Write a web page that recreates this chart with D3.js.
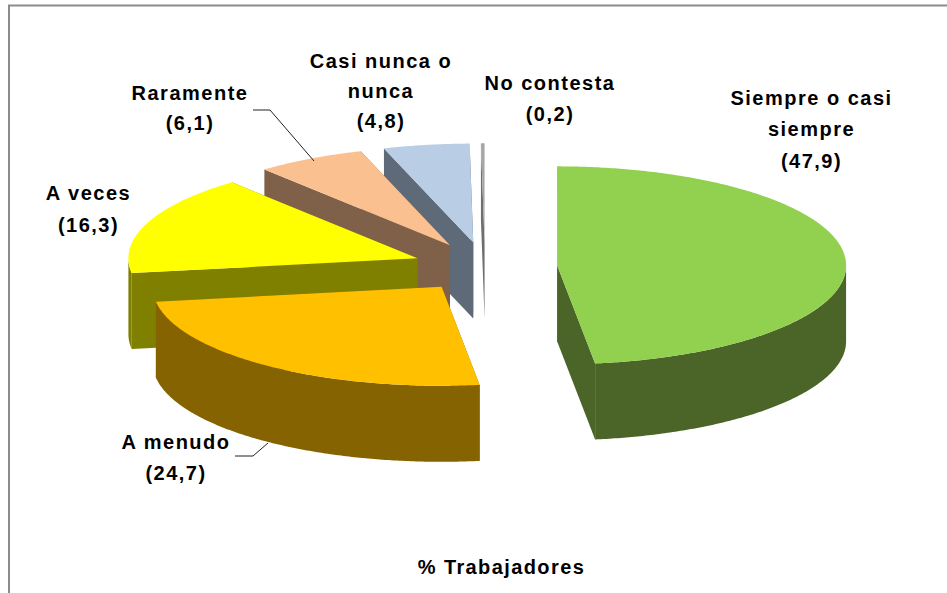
<!DOCTYPE html>
<html><head><meta charset="utf-8">
<script src="https://cdn.jsdelivr.net/npm/d3@7"></script>
<style>html,body{margin:0;padding:0;background:#fff;overflow:hidden}
text{font-family:"Liberation Sans",Arial,sans-serif;font-weight:bold;fill:#000;text-anchor:middle}</style>
</head><body><svg id="c" width="947" height="593"></svg>
<script>
const categories = ["Siempre o casi siempre","A menudo","A veces","Raramente","Casi nunca o nunca","No contesta"];
const values = [47.9,24.7,16.3,6.1,4.8,0.2];
const valueLabels = ["(47,9)","(24,7)","(16,3)","(6,1)","(4,8)","(0,2)"];
const topColors = ["#92D050","#FFC000","#FFFF00","#FAC090","#B9CDE5","#A6A6A6"];
const sideColors = ["#4A6527","#856300","#808000","#7F6048","#5E6A78","#6E6E6E"];
const axisTitle = "% Trabajadores";

// layout
const W=947,H=593, cx=485, cy=267, rx=289, ry=99, depth=76, explode=0.25;
const labelLayout = [
 {lines:["Siempre o casi","siempre"],x:811.5,y:[105,136,168]},
 {lines:["A menudo"],x:176,y:[449,480]},
 {lines:["A veces"],x:88.5,y:[200,232]},
 {lines:["Raramente"],x:190,y:[100,130]},
 {lines:["Casi nunca o","nunca"],x:381,y:[68,98,128]},
 {lines:["No contesta"],x:550,y:[90,121]}
];
const leaders = [[[253,110],[270,110],[314,161]],[[235,456],[253,456],[268,443]]];

const svg=d3.select("#c");
svg.append("path").attr("d",`M9,593V5.5H947`).attr("fill","none").attr("stroke","#8c8c8c").attr("stroke-width",2);

const sx=d3.scaleLinear().domain([-1,1]).range([-rx,rx]);
const sy=d3.scaleLinear().domain([-1,1]).range([-ry,ry]);
const pie=d3.pie().sort(null).startAngle(0).endAngle(2*Math.PI);
const arcs=pie(values);
const lineGen=d3.line();
const pt=(a,ox,oy,dz=0)=>[ox+sx(Math.sin(a)),oy-sy(Math.cos(a))+dz];
const rim=(a0,a1,ox,oy,dz)=>{const n=Math.max(2,Math.ceil((a1-a0)/0.01));
  return d3.range(n+1).map(i=>pt(a0+(a1-a0)*i/n,ox,oy,dz));};

const order=d3.range(values.length).reverse();
const g=svg.append("g");
order.forEach(i=>{
  const d=arcs[i], mid=(d.startAngle+d.endAngle)/2;
  const ox=cx+explode*sx(Math.sin(mid)), oy=cy-explode*sy(Math.cos(mid));
  const s=g.append("g").attr("class","slice").attr("data-category",categories[i]);
  const wall=a=>{const p=pt(a,ox,oy);return [[ox,oy],p,[p[0],p[1]+depth],[ox,oy+depth]];};
  [d.startAngle,d.endAngle].forEach(a=>s.append("path").attr("d",lineGen(wall(a))+"Z").attr("fill",sideColors[i]));
  const a0=Math.max(d.startAngle,Math.PI/2), a1=Math.min(d.endAngle,3*Math.PI/2);
  if(a1>a0){
    const up=rim(a0,a1,ox,oy,0), dn=rim(a0,a1,ox,oy,depth).reverse();
    s.append("path").attr("d",lineGen(up.concat(dn))+"Z").attr("fill",sideColors[i]);
  }
  s.append("path").attr("d",lineGen([[ox,oy]].concat(rim(d.startAngle,d.endAngle,ox,oy,0)))+"Z").attr("fill",topColors[i]);
});

leaders.forEach(l=>svg.append("path").attr("d",lineGen(l)).attr("fill","none").attr("stroke","#222").attr("stroke-width",1));

const labels=svg.append("g").attr("font-size",20);
labelLayout.forEach((l,i)=>{
  l.lines.concat(valueLabels[i]).forEach((t,j)=>{
    labels.append("text").attr("x",l.x).attr("y",l.y[j]).attr("letter-spacing",1.5).text(t);
  });
});
svg.append("text").attr("x",501.5).attr("y",574).attr("font-size",20).attr("letter-spacing",1.4).text(axisTitle);
</script></body></html>
